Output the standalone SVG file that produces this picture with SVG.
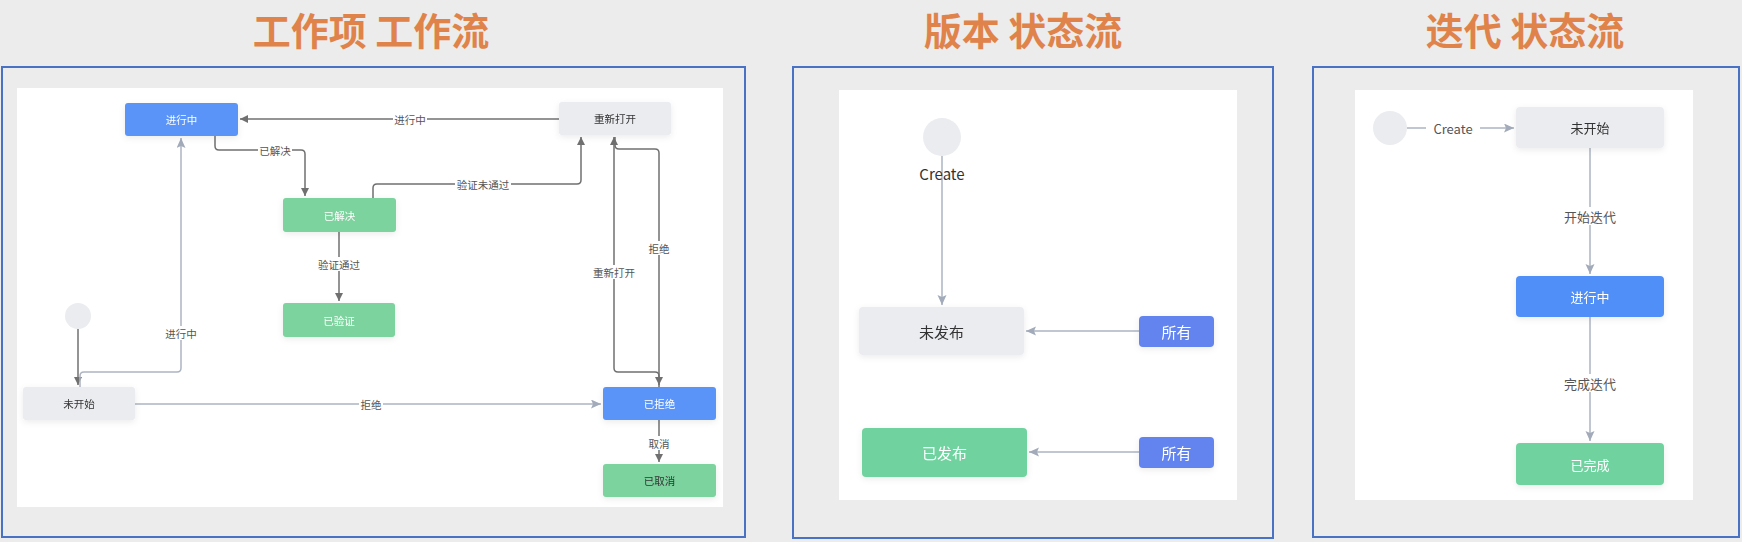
<svg xmlns="http://www.w3.org/2000/svg" width="1742" height="542" viewBox="0 0 1742 542">
<defs>
<style>
.title{font-family:"Noto Sans CJK SC","Noto Sans",sans-serif;font-weight:bold;font-size:38px;fill:#e0834a;text-anchor:middle}
.panel{fill:#ececec;stroke:#4a72c4;stroke-width:2}
.canvas{fill:#ffffff}
.t{font-family:"Noto Sans CJK SC","Noto Sans",sans-serif;text-anchor:middle;dominant-baseline:central}
.s1{font-size:10.5px}
.s2{font-size:15px}
.s3{font-size:13px}
.w{fill:#ffffff}
.d{fill:#333333}
.lbl{fill:#555555}
.dk{fill:none;stroke:#707070;stroke-width:1.5}
.lt{fill:none;stroke:#adb4c2;stroke-width:1.5}
.bg{fill:#ffffff}
.blue1{fill:#5a94f8}
.green1{fill:#7bd39d}
.gray{fill:#ebecf0}
.blue2{fill:#6384ee}
.green2{fill:#6fd39f}
.blue3{fill:#4f8ff7}
</style>
<filter id="sh" x="-20%" y="-30%" width="140%" height="170%">
<feDropShadow dx="0" dy="2" stdDeviation="3" flood-color="#000000" flood-opacity="0.08"/>
</filter>
<marker id="ad" markerWidth="10" markerHeight="10" refX="8" refY="4" orient="auto" markerUnits="userSpaceOnUse">
<path d="M0,0 L8,4 L0,8 Z" fill="#707070"/>
</marker>
<marker id="al" markerWidth="12" markerHeight="10" refX="10" refY="4.5" orient="auto" markerUnits="userSpaceOnUse">
<path d="M0,0 L10,4.5 L0,9 L2,4.5 Z" fill="#a3abba"/>
</marker>
</defs>
<rect x="0" y="0" width="1742" height="542" fill="#ececec"/>

<text class="title" x="371" y="45">工作项 工作流</text>
<text class="title" x="1023" y="45">版本 状态流</text>
<text class="title" x="1525" y="45">迭代 状态流</text>

<rect class="panel" x="2" y="67" width="743" height="470"/>
<rect class="canvas" x="17" y="88" width="706" height="419"/>
<rect class="panel" x="793" y="67" width="480" height="471"/>
<rect class="canvas" x="839" y="90" width="398" height="410"/>
<rect class="panel" x="1313" y="67" width="426" height="470"/>
<rect class="canvas" x="1355" y="90" width="338" height="410"/>

<g id="connectors">
<path class="dk" d="M559,119 H240" marker-end="url(#ad)"/>
<path class="dk" d="M215,136 V146 Q215,150 219,150 H301 Q305,150 305,154 V196" marker-end="url(#ad)"/>
<path class="dk" d="M373,198 V188 Q373,184 377,184 H577 Q581,184 581,180 V137" marker-end="url(#ad)"/>
<path class="dk" d="M339,232 V301" marker-end="url(#ad)"/>
<path class="dk" d="M615,137 V145 Q615,149 619,149 H655 Q659,149 659,153 V385" marker-end="url(#ad)"/>
<path class="dk" d="M659,387 V376 Q659,372 655,372 H618 Q614,372 614,368 V137" marker-end="url(#ad)"/>
<path class="dk" d="M659,420 V462" marker-end="url(#ad)"/>
<path class="dk" d="M78,329 V385" marker-end="url(#ad)"/>
<path class="lt" d="M80,387 V376 Q80,372 84,372 H177 Q181,372 181,368 V138" marker-end="url(#al)"/>
<path class="lt" d="M135,404 H601" marker-end="url(#al)"/>
<path class="lt" d="M942,156 V305" marker-end="url(#al)"/>
<path class="lt" d="M1139,331 H1026" marker-end="url(#al)"/>
<path class="lt" d="M1139,452 H1029" marker-end="url(#al)"/>
<path class="lt" d="M1407,128 H1514" marker-end="url(#al)"/>
<path class="lt" d="M1590,148 V274" marker-end="url(#al)"/>
<path class="lt" d="M1590,317 V441" marker-end="url(#al)"/>

<rect class="bg" x="393" y="112" width="34" height="14"/>
<text class="t s1 lbl" x="410" y="119">进行中</text>
<rect class="bg" x="258" y="143" width="34" height="14"/>
<text class="t s1 lbl" x="275" y="150">已解决</text>
<rect class="bg" x="455" y="177" width="56" height="14"/>
<text class="t s1 lbl" x="483" y="184">验证未通过</text>
<rect class="bg" x="317" y="257" width="44" height="14"/>
<text class="t s1 lbl" x="339" y="264">验证通过</text>
<rect class="bg" x="647" y="241" width="24" height="14"/>
<text class="t s1 lbl" x="659" y="248">拒绝</text>
<rect class="bg" x="592" y="265" width="44" height="14"/>
<text class="t s1 lbl" x="614" y="272">重新打开</text>
<rect class="bg" x="647" y="436" width="24" height="14"/>
<text class="t s1 lbl" x="659" y="443">取消</text>
<rect class="bg" x="164" y="326" width="34" height="14"/>
<text class="t s1 lbl" x="181" y="333">进行中</text>
<rect class="bg" x="359" y="397" width="24" height="14"/>
<text class="t s1 lbl" x="371" y="404">拒绝</text>
<text class="t s2 d" x="942" y="173">Create</text>
<rect class="bg" x="1426" y="119" width="54" height="18"/>
<text class="t s3 lbl" x="1453" y="128">Create</text>
<rect class="bg" x="1562" y="207" width="56" height="18"/>
<text class="t s3 lbl" x="1590" y="216">开始迭代</text>
<rect class="bg" x="1562" y="374" width="56" height="18"/>
<text class="t s3 lbl" x="1590" y="383">完成迭代</text>
</g>

<g id="n-inprogress1" filter="url(#sh)"><rect class="blue1" x="125" y="103" width="113" height="33" rx="3"/><text class="t s1 w" x="181.5" y="119.5">进行中</text></g>
<g id="n-resolved1" filter="url(#sh)"><rect class="green1" x="283" y="198" width="113" height="34" rx="3"/><text class="t s1 w" x="339.5" y="215">已解决</text></g>
<g id="n-verified1" filter="url(#sh)"><rect class="green1" x="283" y="303" width="112" height="34" rx="3"/><text class="t s1 w" x="339" y="320">已验证</text></g>
<g id="n-reopen1" filter="url(#sh)"><rect class="gray" x="559" y="102" width="112" height="33" rx="3"/><text class="t s1 d" x="615" y="118.5">重新打开</text></g>
<g id="n-notstarted1" filter="url(#sh)"><rect class="gray" x="23" y="387" width="112" height="33" rx="3"/><text class="t s1 d" x="79" y="403.5">未开始</text></g>
<g id="n-rejected1" filter="url(#sh)"><rect class="blue1" x="603" y="387" width="113" height="33" rx="3"/><text class="t s1 w" x="659.5" y="403.5">已拒绝</text></g>
<g id="n-cancelled1" filter="url(#sh)"><rect class="green1" x="603" y="464" width="113" height="33" rx="3"/><text class="t s1 d" x="659.5" y="480.5">已取消</text></g>
<g id="n-start1"><circle cx="78" cy="316" r="13" fill="#ebecf0"/></g>

<g id="n-start2"><circle cx="942" cy="137" r="19" fill="#ebecf0"/></g>
<g id="n-unreleased2" filter="url(#sh)"><rect class="gray" x="859" y="307" width="165" height="48" rx="4"/><text class="t s2 d" x="941.5" y="331">未发布</text></g>
<g id="n-all2a" filter="url(#sh)"><rect class="blue2" x="1139" y="316" width="75" height="31" rx="4"/><text class="t s2 w" x="1176.5" y="331.5">所有</text></g>
<g id="n-released2" filter="url(#sh)"><rect class="green2" x="862" y="428" width="165" height="49" rx="4"/><text class="t s2 w" x="944.5" y="452.5">已发布</text></g>
<g id="n-all2b" filter="url(#sh)"><rect class="blue2" x="1139" y="437" width="75" height="31" rx="4"/><text class="t s2 w" x="1176.5" y="452.5">所有</text></g>

<g id="n-start3"><circle cx="1390" cy="128" r="17" fill="#ebecf0"/></g>
<g id="n-notstarted3" filter="url(#sh)"><rect class="gray" x="1516" y="107" width="148" height="41" rx="4"/><text class="t s3 d" x="1590" y="127.5">未开始</text></g>
<g id="n-inprogress3" filter="url(#sh)"><rect class="blue3" x="1516" y="276" width="148" height="41" rx="4"/><text class="t s3 w" x="1590" y="296.5">进行中</text></g>
<g id="n-done3" filter="url(#sh)"><rect class="green2" x="1516" y="443" width="148" height="42" rx="4"/><text class="t s3 w" x="1590" y="464">已完成</text></g>
</svg>
